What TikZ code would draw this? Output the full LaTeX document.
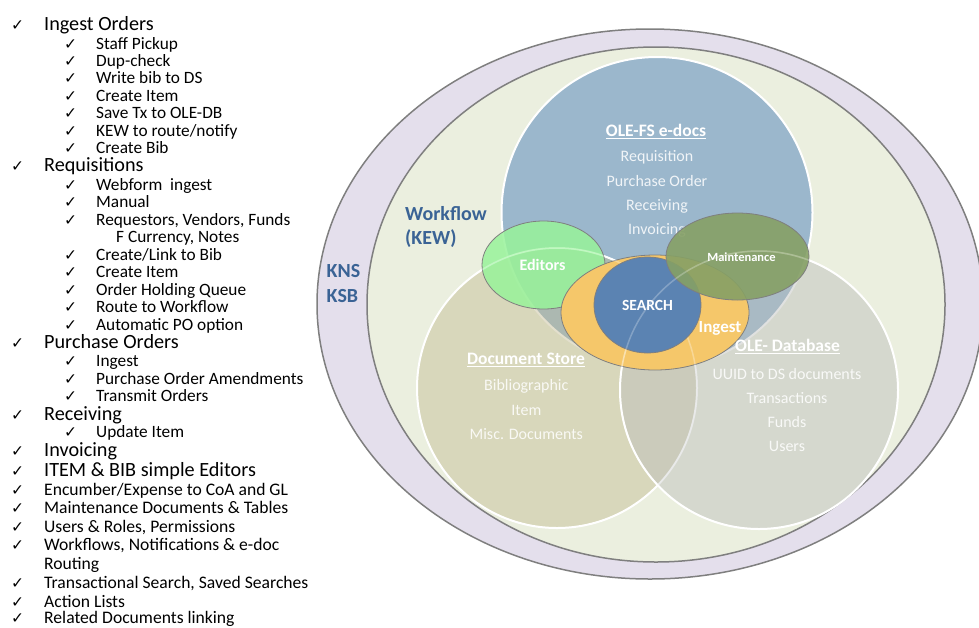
\documentclass[tikz,border=0pt]{standalone}
\usepackage{fontspec}
\setmainfont{Carlito}
\newfontfamily\checkf{DejaVu Sans}

\definecolor{kblue}{HTML}{3A6395}
\definecolor{ringgrey}{HTML}{7F7F7F}
\definecolor{ksbfill}{HTML}{E4DFEC}
\definecolor{kewfill}{HTML}{EBEFDF}
\definecolor{fsfill}{HTML}{9BB7CC}
\definecolor{dsfill}{HTML}{C1BA91}
\definecolor{dbfill}{HTML}{BCBEBB}
\definecolor{edfill}{HTML}{98F39A}
\definecolor{mtfill}{HTML}{86A065}
\definecolor{igfill}{HTML}{F5C76A}
\definecolor{srfill}{HTML}{5B83B2}

\newcommand{\ck}{{\checkf\fontsize{15.5}{16}\selectfont ✓}}

\tikzset{
  lvlone/.style={anchor=base west, inner sep=0pt, font=\fontsize{20.2}{20}\selectfont},
  lvltwo/.style={anchor=base west, inner sep=0pt, font=\fontsize{17.3}{17}\selectfont},
  lvlend/.style={anchor=base west, inner sep=0pt, font=\fontsize{17.6}{17}\selectfont},
  lbl/.style={anchor=base, inner sep=0pt, text=white, text opacity=0.85, font=\fontsize{16}{16}\selectfont},
  ttl/.style={anchor=base, inner sep=0pt, text=white, font=\bfseries\fontsize{17.5}{17.5}\selectfont},
  tag/.style={anchor=base, inner sep=0pt, text=white, font=\bfseries},
  kname/.style={anchor=base west, inner sep=0pt, text=kblue, font=\bfseries\fontsize{20}{20}\selectfont}
}

\begin{document}
\begin{tikzpicture}[x=1pt,y=-1pt]
  \useasboundingbox (0,0) rectangle (979,627);

  % left hand check list
  \node[lvlone] (io) at (11,30.7) {\makebox[33pt][l]{\ck}Ingest Orders};
  \node[lvltwo] (io1) at (64,49) {\makebox[32pt][l]{\ck}Staff Pickup};
  \node[lvltwo] (io2) at (64,66.3) {\makebox[32pt][l]{\ck}Dup-check};
  \node[lvltwo] (io3) at (64,83.6) {\makebox[32pt][l]{\ck}Write bib to DS};
  \node[lvltwo] (io4) at (64,101) {\makebox[32pt][l]{\ck}Create Item};
  \node[lvltwo] (io5) at (64,118.3) {\makebox[32pt][l]{\ck}Save Tx to OLE-DB};
  \node[lvltwo] (io6) at (64,136) {\makebox[32pt][l]{\ck}KEW to route/notify};
  \node[lvltwo] (io7) at (64,153.3) {\makebox[32pt][l]{\ck}Create Bib};
  \node[lvlone] (rq) at (11,171.7) {\makebox[33pt][l]{\ck}Requisitions};
  \node[lvltwo] (rq1) at (64,190) {\makebox[32pt][l]{\ck}Webform\ \ ingest};
  \node[lvltwo] (rq2) at (64,207.3) {\makebox[32pt][l]{\ck}Manual};
  \node[lvltwo] (rq3) at (64,225) {\makebox[32pt][l]{\ck}Requestors, Vendors,\ Funds};
  \node[lvltwo] (rq3b) at (116,242.7) {F Currency, Notes};
  \node[lvltwo] (rq4) at (64,260) {\makebox[32pt][l]{\ck}Create/Link to Bib};
  \node[lvltwo] (rq5) at (64,277.7) {\makebox[32pt][l]{\ck}Create Item};
  \node[lvltwo] (rq6) at (64,295) {\makebox[32pt][l]{\ck}Order Holding Queue};
  \node[lvltwo] (rq7) at (64,312.3) {\makebox[32pt][l]{\ck}Route to Workflow};
  \node[lvltwo] (rq8) at (64,330) {\makebox[32pt][l]{\ck}Automatic PO option};
  \node[lvlone] (po) at (11,348.3) {\makebox[33pt][l]{\ck}Purchase Orders};
  \node[lvltwo] (po1) at (64,366.7) {\makebox[32pt][l]{\ck}Ingest};
  \node[lvltwo] (po2) at (64,384.3) {\makebox[32pt][l]{\ck}Purchase Order Amendments};
  \node[lvltwo] (po3) at (64,401.7) {\makebox[32pt][l]{\ck}Transmit Orders};
  \node[lvlone] (rc) at (11,420) {\makebox[33pt][l]{\ck}Receiving};
  \node[lvltwo] (rc1) at (64,437.7) {\makebox[32pt][l]{\ck}Update Item};
  \node[lvlone] (iv) at (11,456.7) {\makebox[33pt][l]{\ck}Invoicing};
  \node[lvlone] (ed) at (11,476) {\makebox[33pt][l]{\ck}ITEM \& BIB simple Editors};
  \node[lvlend] (l1) at (11,495) {\makebox[33pt][l]{\ck}Encumber/Expense\ to CoA and GL};
  \node[lvlend] (l2) at (11,513.3) {\makebox[33pt][l]{\ck}Maintenance Documents \& Tables};
  \node[lvlend] (l3) at (11,532.3) {\makebox[33pt][l]{\ck}Users \& Roles, Permissions};
  \node[lvlend] (l4) at (11,550.7) {\makebox[33pt][l]{\ck}Workflows, Notifications \& e-doc};
  \node[lvlend] (l4b) at (44,569.3) {Routing};
  \node[lvlend] (l5) at (11,588.3) {\makebox[33pt][l]{\ck}Transactional Search, Saved Searches};
  \node[lvlend] (l6) at (11,607.3) {\makebox[33pt][l]{\ck}Action Lists};
  \node[lvlend] (l7) at (11,623.5) {\makebox[33pt][l]{\ck}Related Documents linking};

  % rings
  \filldraw[fill=ksbfill, draw=ringgrey, line width=1.5pt] (650,304) ellipse [x radius=333pt, y radius=275pt];
  \filldraw[fill=kewfill, draw=ringgrey, line width=1.5pt] (656,304.5) ellipse [x radius=289pt, y radius=257.5pt];

  % circles
  \filldraw[fill=fsfill, draw=white, line width=2pt] (657,212.5) circle [radius=155.5pt];
  \filldraw[fill=dsfill, fill opacity=0.45, draw=white, line width=2pt] (557,388) circle [radius=140pt];
  \filldraw[fill=dbfill, fill opacity=0.45, draw=white, line width=2pt] (759,390) circle [radius=139pt];

  % small ellipses
  \filldraw[fill=edfill, fill opacity=0.85, draw=ringgrey, line width=0.8pt] (543.5,265) ellipse [x radius=61.5pt, y radius=44pt];
  \filldraw[fill=igfill, draw=ringgrey, line width=0.8pt] (655,312.5) ellipse [x radius=94pt, y radius=57.5pt];
  \draw[white, draw opacity=0.3, line width=1.5pt] (557,388) circle [radius=140pt];
  \draw[white, draw opacity=0.3, line width=1.5pt] (759,390) circle [radius=139pt];
  \filldraw[fill=srfill, draw=ringgrey, line width=0.8pt] (647.5,305) ellipse [x radius=53.5pt, y radius=48pt];

  % ring names
  \node[kname] (kns) at (326.5,277.3) {KNS};
  \node[kname] (ksb) at (326.5,302.7) {KSB};
  \node[kname] (kew) at (405,220) {Workflow};
  \node[kname] (kewb) at (405,244.5) {(KEW)};

  % OLE-FS e-docs
  \node[ttl] (fs) at (656,136.7) {\underline{OLE-FS e-docs}};
  \node[lbl] (fs1) at (657,161.7) {Requisition};
  \node[lbl] (fs2) at (657,186) {Purchase Order};
  \node[lbl] (fs3) at (657,210.3) {Receiving};
  \node[lbl] (fs4) at (657,234.6) {Invoicing};

  % Document Store
  \node[ttl] (ds) at (526,364.3) {\underline{Document Store}};
  \node[lbl] (ds1) at (526.3,390.7) {Bibliographic};
  \node[lbl] (ds2) at (526.3,415) {Item};
  \node[lbl] (ds3) at (526.3,439.3) {Misc. Documents};

  % OLE- Database
  \node[ttl] (db) at (787.5,351.7) {\underline{OLE- Database}};
  \node[lbl] (db1) at (787,379) {UUID to DS documents};
  \node[lbl] (db2) at (787,403) {Transactions};
  \node[lbl] (db3) at (787,427.3) {Funds};
  \node[lbl] (db4) at (787,451.7) {Users};

  % Maintenance sits over the Invoicing line
  \filldraw[fill=mtfill, fill opacity=0.9, draw=ringgrey, line width=0.8pt] (737.5,256.5) ellipse [x radius=71.5pt, y radius=43.5pt];
  \draw[white, draw opacity=0.25, line width=1.5pt] (759,390) circle [radius=139pt];

  \node[tag, font=\bfseries\fontsize{16}{16}\selectfont] (edt) at (542.5,270) {Editors};
  \node[tag, font=\bfseries\fontsize{12.5}{12.5}\selectfont] (mnt) at (741.5,261) {Maintenance};
  \node[tag, font=\bfseries\fontsize{15.5}{15.5}\selectfont] (srch) at (647.5,310) {SEARCH};
  \node[tag, font=\bfseries\fontsize{17}{17}\selectfont] (ing) at (720,332.7) {Ingest};
\end{tikzpicture}
\end{document}
